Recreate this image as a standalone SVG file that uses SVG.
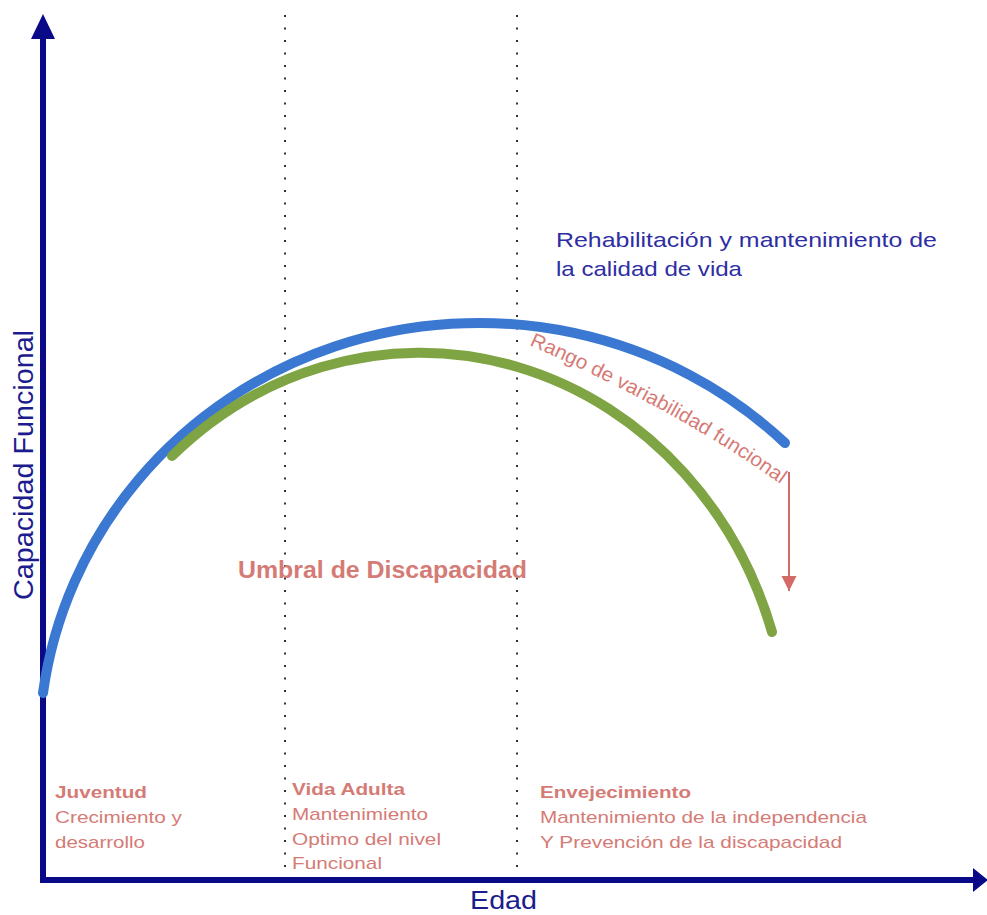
<svg xmlns="http://www.w3.org/2000/svg" width="987" height="915" viewBox="0 0 987 915">
<style>
text{font-family:"Liberation Sans",Arial,sans-serif}
.axis{stroke:#0a0a88;stroke-width:6;fill:none}
.axhead{fill:#0a0a88}
.dot{stroke:#333;stroke-width:2;stroke-dasharray:2 10.5;fill:none}
.lbl{fill:#1c1c8e}
.rehab{fill:#2e2ea2;font-size:21px}
.pink{fill:#d57b76;font-size:17px}
.b{font-weight:bold}
</style>
<defs>
<marker id="redhead" markerWidth="16" markerHeight="16" refX="15" refY="7.5" orient="auto" markerUnits="userSpaceOnUse" viewBox="0 0 16 16">
<path d="M0 0 L15 7.5 L0 15 Z" fill="#d46a66"/>
</marker>
</defs>
<rect width="987" height="915" fill="#fff"/>
<g id="guides">
<line class="dot" x1="285" y1="15" x2="285" y2="880"/>
<line class="dot" x1="517" y1="15" x2="517" y2="880"/>
</g>
<g id="axes">
<line class="axis" x1="43" y1="36" x2="43" y2="883"/>
<path class="axhead" d="M43 14 L55 39 L31 39 Z"/>
<line class="axis" x1="40" y1="880" x2="976" y2="880"/>
<path class="axhead" d="M988 880 L973 868 L973 892 Z"/>
</g>
<g id="curves">
<path id="blue" d="M43 693 A440 427 0 0 1 785 443" fill="none" stroke="#3a78d2" stroke-width="10" stroke-linecap="round"/>
<path id="green" d="M172 456 A368.6 397 0 0 1 772 632" fill="none" stroke="#7fa443" stroke-width="10" stroke-linecap="round"/>
<path id="rangopath" d="M529 345 Q683 413 786 488" fill="none"/>
</g>
<g id="connectors">
<line x1="789" y1="472" x2="789" y2="591" stroke="#d46a66" stroke-width="2" marker-end="url(#redhead)"/>
</g>
<g id="labels">
<text class="rehab" x="556" y="247" textLength="381" lengthAdjust="spacingAndGlyphs">Rehabilitación y mantenimiento de</text>
<text class="rehab" x="556" y="276" textLength="186" lengthAdjust="spacingAndGlyphs">la calidad de vida</text>
<text class="lbl" x="470" y="909" font-size="25" textLength="67" lengthAdjust="spacingAndGlyphs">Edad</text>
<text class="lbl" transform="translate(33 600) rotate(-90)" font-size="28" textLength="270" lengthAdjust="spacingAndGlyphs">Capacidad Funcional</text>
<text x="238" y="578" font-size="24" font-weight="bold" fill="#d57b76" textLength="289" lengthAdjust="spacingAndGlyphs">Umbral de Discapacidad</text>
<text fill="#d57b76" font-size="20"><textPath href="#rangopath" textLength="288" lengthAdjust="spacingAndGlyphs">Rango de variabilidad funcional</textPath></text>
</g>
<g id="juventud">
<text class="pink b" x="55" y="798" textLength="92" lengthAdjust="spacingAndGlyphs">Juventud</text>
<text class="pink" x="55" y="823" textLength="127" lengthAdjust="spacingAndGlyphs">Crecimiento y</text>
<text class="pink" x="55" y="848" textLength="90" lengthAdjust="spacingAndGlyphs">desarrollo</text>
</g>
<g id="vida-adulta">
<text class="pink b" x="292" y="795" textLength="113" lengthAdjust="spacingAndGlyphs">Vida Adulta</text>
<text class="pink" x="292" y="820" textLength="136" lengthAdjust="spacingAndGlyphs">Mantenimiento</text>
<text class="pink" x="292" y="845" textLength="149" lengthAdjust="spacingAndGlyphs">Optimo del nivel</text>
<text class="pink" x="292" y="869" textLength="90" lengthAdjust="spacingAndGlyphs">Funcional</text>
</g>
<g id="envejecimiento">
<text class="pink b" x="540" y="798" textLength="151" lengthAdjust="spacingAndGlyphs">Envejecimiento</text>
<text class="pink" x="540" y="823" textLength="327" lengthAdjust="spacingAndGlyphs">Mantenimiento de la independencia</text>
<text class="pink" x="540" y="848" textLength="302" lengthAdjust="spacingAndGlyphs">Y Prevención de la discapacidad</text>
</g>
</svg>
